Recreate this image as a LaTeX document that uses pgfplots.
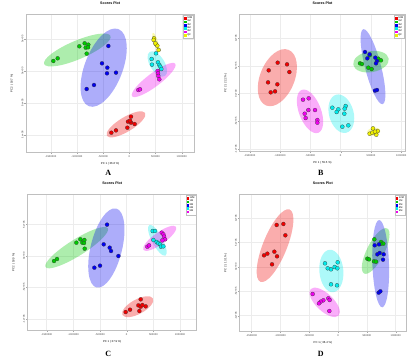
\documentclass[border=0pt]{standalone}
\usepackage{fontspec}
\setmainfont{Liberation Sans}
\newfontfamily\capfont{Liberation Serif}
\usepackage{pgfplots}
\pgfplotsset{compat=1.18}
\definecolor{cR}{RGB}{240,0,0}
\definecolor{cG}{RGB}{0,200,0}
\definecolor{cB}{RGB}{0,0,240}
\definecolor{cC}{RGB}{0,235,235}
\definecolor{cM}{RGB}{240,0,240}
\definecolor{cY}{RGB}{240,240,0}
\newcommand{\ellip}[6]{\fill[#1, fill opacity=0.32, rotate around={#4:(axis cs:#2,#3)}] (axis cs:#2,#3) ellipse [x radius=#5pt, y radius=#6pt];}
\pgfplotsset{
  pt/.style={only marks, mark=*, mark size=2pt, color=#1, mark options={draw=black!80, fill=#1, line width=0.2pt}},
  pca/.style={
    scale only axis, anchor=south west,
    axis line style={draw=gray!50, line width=0.9pt},
    grid=major, grid style={gray!15, line width=0.4pt},
    tick pos=left, tick align=outside,
    major tick style={gray!70, line width=0.3pt}, major tick length=1.5pt,
    scaled ticks=false,
    tick label style={font=\fontsize{2.6}{2.9}\selectfont, text=black!75},
    yticklabel style={rotate=90, anchor=south, inner sep=1pt},
    xticklabel style={inner sep=1pt},
    xtick={-1500000,-1000000,-500000,0,500000,1000000},
    xticklabels={-1500000,-1000000,-500000,0,500000,1000000},
    title style={font=\bfseries\fontsize{3.6}{4}\selectfont, at={(axis description cs:0.5,1)}, anchor=south, yshift=3.2pt, inner sep=0pt},
    every axis x label/.style={at={(axis description cs:0.5,0)}, anchor=north, yshift=-9.8pt, inner sep=0pt, font=\fontsize{2.8}{3.2}\selectfont},
    every axis y label/.style={at={(axis description cs:0,0.5)}, xshift=-12.5pt, rotate=90, anchor=south, inner sep=0pt, font=\fontsize{2.8}{3.2}\selectfont},
    legend style={at={(rel axis cs:1,1)}, anchor=north east, xshift=-0.6pt, yshift=-0.6pt, draw=gray!50, line width=0.3pt, fill=white, font=\fontsize{2.5}{2.7}\selectfont, inner sep=0.8pt, row sep=-1pt, nodes={inner sep=0.6pt}, /tikz/every odd column/.append style={column sep=0.6pt}},
    legend cell align=left,
    legend image code/.code={\fill (0.6pt,-0.8pt) rectangle (2.2pt,0.8pt);},
    title={Scores Plot},
  },
  y4/.style={ytick={-1000000,-500000,0,500000}, yticklabels={-1e+06,-5e+05,0e+00,5e+05}},
  y5/.style={ytick={-1000000,-500000,0,500000,1000000}, yticklabels={-1e+06,-5e+05,0e+00,5e+05,1e+06}},
}
\begin{document}
\begin{tikzpicture}
\useasboundingbox (0,0) rectangle (407pt,362pt);
% ---------------- A ----------------
\begin{axis}[pca, y4, at={(26pt,209.3pt)}, width=168.3pt, height=138.4pt,
  xmin=-1972000, xmax=1240000, ymin=-1280000, ymax=888000,
  xlabel={PC 1 ( 36.6 \%)}, ylabel={PC 2 ( 18.7 \%)}]
\ellip{cG}{-992300}{329200}{23}{36}{9.3}
\ellip{cB}{-489800}{52250}{69}{41.3}{19}
\ellip{cR}{-63600}{-836000}{31}{22.3}{7.3}
\ellip{cC}{534300}{109700}{-58}{14.3}{7.3}
\ellip{cM}{464400}{-141100}{37}{27}{6.7}
\ellip{cY}{508900}{444100}{-73}{10.3}{2.2}
\addplot[pt=cR] coordinates {(31800,-715800) (-25400,-794200) (31800,-809900) (101800,-830800) (-38200,-888250) (-254400,-930000) (-343500,-966600) (12700,-778500)};
\addplot[pt=cG] coordinates {(-1450300,156750) (-1367600,198550) (-954150,386650) (-852400,433700) (-782400,412800) (-833300,365750) (-788800,371000) (-814200,271700)};
\addplot[pt=cB] coordinates {(-400700,391900) (-521600,120200) (-419800,52250) (-426200,-36600) (-254400,-26100) (-674300,-219500) (-814200,-282200)};
\addplot[pt=cC] coordinates {(508900,276900) (426200,188100) (432500,99300) (547000,135850) (572500,94050) (591600,67900) (610700,31350)};
\addplot[pt=cM] coordinates {(540700,0) (547000,-36600) (553400,-78400) (572500,-130600) (171700,-297800) (203600,-287400)};
\addplot[pt=cY] coordinates {(470700,512050) (464400,485900) (508900,418000) (534300,397100) (559800,329200) (496200,433700)};
\legend{12M,1M,3M,6M,9M,QC}
\end{axis}
% ---------------- B ----------------
\begin{axis}[pca, y5, at={(239.7pt,210.3pt)}, width=165.6pt, height=137.4pt,
  xmin=-1665000, xmax=1066000, ymin=-1048000, ymax=1434000,
  xlabel={PC 1 ( 55.5 \%)}, ylabel={PC 2 ( 22.2 \%)}]
\ellip{cR}{-1044000}{289200}{68}{30}{17.3}
\ellip{cM}{-505500}{-319300}{111}{23}{11}
\ellip{cC}{11000}{-361400}{105}{19.7}{12.3}
\ellip{cB}{533000}{487900}{104.5}{38.7}{8}
\ellip{cG}{500000}{578300}{10}{18}{10.5}
\ellip{cY}{544000}{-686700}{10}{6.7}{4}
\addplot[pt=cR] coordinates {(-1038500,560200) (-884600,530100) (-1186800,421700) (-846200,391600) (-1197800,204800) (-1044000,168700) (-1082400,42200) (-1153800,24100)};
\addplot[pt=cG] coordinates {(318700,548200) (351600,536100) (456000,469900) (511000,445800) (620900,632500) (664800,602400) (478000,692800)};
\addplot[pt=cB] coordinates {(401100,753000) (478000,710800) (439600,638500) (571400,650600) (598900,590400) (582400,548200) (565900,54200) (598900,66300)};
\addplot[pt=cC] coordinates {(-137400,-253000) (-38500,-283100) (-65900,-331300) (82400,-222900) (65900,-271100) (60400,-361400) (27500,-596400) (126400,-572300)};
\addplot[pt=cM] coordinates {(-620900,-108400) (-527500,-84300) (-423100,-295200) (-533000,-295200) (-593400,-361400) (-576900,-439800) (-384600,-475900) (-384600,-524100)};
\addplot[pt=cY] coordinates {(533000,-626500) (609900,-674700) (478000,-722900) (522000,-704800) (587900,-741000) (565900,-686700)};
\legend{12M,1M,3M,6M,9M,QC}
\end{axis}
% ---------------- C ----------------
\begin{axis}[pca, y4, at={(27.7pt,31.3pt)}, width=169pt, height=136.4pt,
  xmin=-1856000, xmax=1312500, ymin=-1185000, ymax=979000,
  xlabel={PC 1 ( 37.9 \%)}, ylabel={PC 2 ( 18.0 \%)}]
\ellip{cG}{-937500}{132300}{32}{36.7}{8.3}
\ellip{cB}{-381250}{127000}{76}{40.7}{15.7}
\ellip{cR}{206250}{-804200}{28.5}{17.3}{7.3}
\ellip{cC}{575000}{248700}{-62}{17.3}{5.3}
\ellip{cM}{618750}{280400}{35.5}{20}{6}
\addplot[pt=cR] coordinates {(262500,-687800) (218750,-783100) (262500,-804200) (356250,-798900) (237500,-873000) (62500,-851900) (-18750,-888900) (293750,-777800)};
\addplot[pt=cG] coordinates {(-1362500,-79400) (-1306250,-47600) (-943750,211600) (-868750,264600) (-793750,254000) (-831250,211600) (-800000,206300) (-787500,116400)};
\addplot[pt=cB] coordinates {(-368750,497400) (-431250,185200) (-318750,132300) (-293750,79400) (-156250,0) (-500000,-153400) (-606250,-185200)};
\addplot[pt=cC] coordinates {(487500,396800) (531250,396800) (500000,254000) (562500,222200) (593750,201100) (625000,185200) (643750,148100) (687500,153400)};
\addplot[pt=cM] coordinates {(656250,370400) (687500,343900) (700000,306900) (718750,264600) (668750,248700) (387500,148100) (418750,169300)};
\legend{12M,1M,3M,6M,9M}
\end{axis}
% ---------------- D ----------------
\begin{axis}[pca, y5, at={(239.7pt,30.3pt)}, width=166.3pt, height=137.4pt,
  xmin=-1705000, xmax=1179000, ymin=-1329000, ymax=1493000,
  xlabel={PC 1 ( 36.4 \%)}, ylabel={PC 2 ( 13.1 \%)}]
\ellip{cR}{-1092400}{438300}{68}{39}{12}
\ellip{cC}{-115600}{-82200}{95}{21.3}{12}
\ellip{cM}{-231200}{-726000}{-43.6}{19.3}{8.7}
\ellip{cG}{653100}{328800}{63}{25.3}{8.7}
\ellip{cB}{739800}{68500}{92}{43.7}{8.3}
\addplot[pt=cR] coordinates {(-1063500,863000) (-947900,883500) (-913200,650700) (-1104000,315100) (-1225400,274000) (-1283200,239700) (-1057700,219200) (-1144400,54800)};
\addplot[pt=cG] coordinates {(630000,568500) (745600,513700) (786100,479400) (734100,472600) (508600,171200) (537500,157500) (624200,116400) (658900,109600)};
\addplot[pt=cB] coordinates {(635800,445200) (682000,260300) (722500,287700) (791900,260300) (780300,150700) (705200,-527400) (734100,-500000) (710900,465700)};
\addplot[pt=cC] coordinates {(-225400,75300) (-5800,95900) (-179200,-27400) (-121400,-47900) (-57800,0) (-11600,-27400) (-121400,-356100) (-17300,-376700)};
\addplot[pt=cM] coordinates {(-439300,-554800) (-254300,-684900) (-300600,-712300) (-329500,-746500) (-167600,-643800) (-144500,-678100) (-150300,-904100)};
\legend{12M,1M,3M,6M,9M}
\end{axis}
% captions
\node[font=\capfont\bfseries\fontsize{8}{9}\selectfont] at (108.3pt,189pt) {A};
\node[font=\capfont\bfseries\fontsize{8}{9}\selectfont] at (320.7pt,189pt) {B};
\node[font=\capfont\bfseries\fontsize{8}{9}\selectfont] at (108.3pt,8.3pt) {C};
\node[font=\capfont\bfseries\fontsize{8}{9}\selectfont] at (320.7pt,7.7pt) {D};
\end{tikzpicture}
\end{document}
